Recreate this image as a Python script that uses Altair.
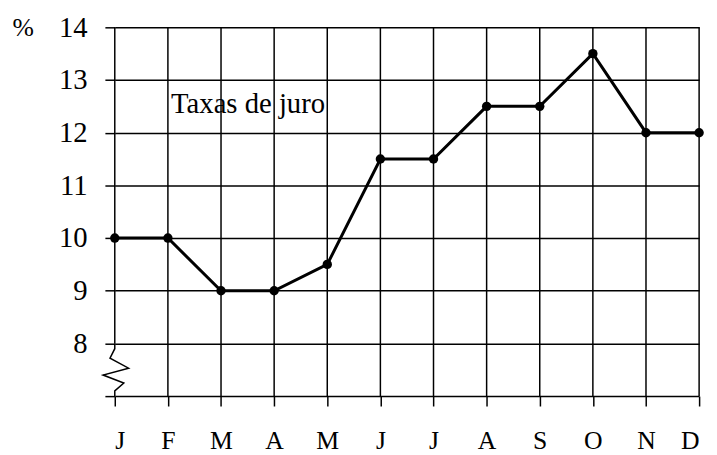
import altair as alt
import pandas as pd

months = ["J", "F", "M", "A", "M", "J", "J", "A", "S", "O", "N", "D"]
rates = [10, 10, 9, 9, 9.5, 11.5, 11.5, 12.5, 12.5, 13.5, 12, 12]
y_ticks = [7, 8, 9, 10, 11, 12, 13, 14]
label_text = "Taxas de juro"

# zig-zag axis break on the left edge (data coordinates)
zz_x = [0, 0, -0.09, 0.26, -0.22, 0.17, 0, 0]
zz_y = [8, 7.9, 7.72, 7.53, 7.4, 7.25, 7.1, 7]

idx = list(range(len(months)))
df = pd.DataFrame({"i": idx, "m": months, "v": rates})
vlines = pd.DataFrame({"i": idx, "y0": [8] + [7] * 11, "y1": [14] * 12})
zz = pd.DataFrame({"x": zz_x, "y": zz_y, "o": list(range(len(zz_x)))})

FONT = "Liberation Serif"
label_expr = "[" + ",".join("'%s'" % m for m in months) + "][datum.value]"

xs = alt.Scale(domain=[0, 11], nice=False, zero=False)
ys = alt.Scale(domain=[7, 14], nice=False, zero=False)

xaxis = alt.Axis(values=idx, labelExpr=label_expr, grid=False, domain=False,
                 tickSize=10, labelPadding=22, title=None,
                 labelFont=FONT, labelFontSize=26, labelColor="black")
yaxis = alt.Axis(values=y_ticks, labelExpr="datum.value == 7 ? '' : datum.value",
                 grid=True, domain=False, tickSize=10,
                 labelFont=FONT, labelFontSize=29, labelColor="black",
                 labelPadding=18, title="%", titleAngle=0,
                 titleFont=FONT, titleFontSize=26, titleFontWeight="normal",
                 titleColor="black",
                 titleX=-104, titleY=0, titleAlign="left", titleBaseline="middle")

base_axes = alt.Chart(df).mark_point(opacity=0).encode(
    x=alt.X("i:Q", scale=xs, axis=xaxis),
    y=alt.Y("v:Q", scale=ys, axis=yaxis),
)

vr = alt.Chart(vlines).mark_rule(color="black", strokeWidth=1.5).encode(
    x=alt.X("i:Q", scale=xs), y=alt.Y("y0:Q", scale=ys), y2="y1:Q")

zig = alt.Chart(zz).mark_line(color="black", strokeWidth=1.5).encode(
    x=alt.X("x:Q", scale=xs), y=alt.Y("y:Q", scale=ys), order="o:Q")

line = alt.Chart(df).mark_line(color="black", strokeWidth=3).encode(
    x=alt.X("i:Q", scale=xs), y=alt.Y("v:Q", scale=ys))

pts = alt.Chart(df).mark_circle(color="black", size=90, opacity=1).encode(
    x=alt.X("i:Q", scale=xs), y=alt.Y("v:Q", scale=ys))

txt = alt.Chart(pd.DataFrame({"t": [label_text]})).mark_text(
    font=FONT, fontSize=29, color="black", align="left", baseline="alphabetic"
).encode(x=alt.datum(1.06), y=alt.datum(12.37), text="t:N")

chart = alt.layer(base_axes, vr, zig, line, pts, txt).properties(
    width=591, height=373,
    autosize=alt.AutoSizeParams(type="none"),
    padding={"left": 108, "top": 17, "right": 10, "bottom": 56},
).configure_view(stroke=None).configure_axis(
    tickColor="black", tickWidth=1.5, gridColor="black", gridWidth=1.5, gridOpacity=1,
)

chart.save("out.html", embed_options={"renderer": "svg", "actions": False})
